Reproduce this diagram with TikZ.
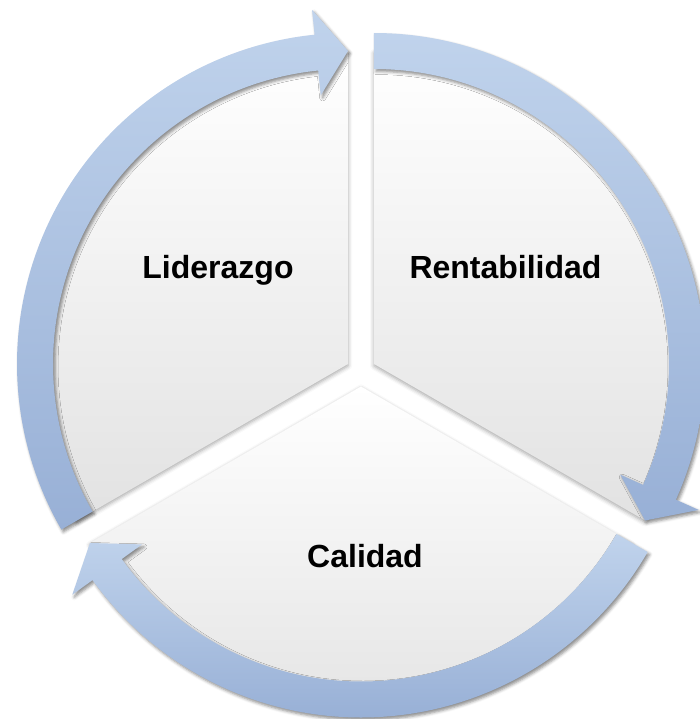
\documentclass[tikz,border=0pt]{standalone}
\usepackage{fontspec}
\setmainfont{Liberation Sans}
\usetikzlibrary{calc,shadows.blur}
\definecolor{arrowtop}{HTML}{C0D3EC}
\definecolor{arrowbot}{HTML}{98B0D6}
\definecolor{secbot}{HTML}{E2E2E2}
\tikzset{
  sector/.style={top color=white, bottom color=secbot,
    blur shadow={shadow xshift=0pt, shadow yshift=-2pt, shadow blur radius=4pt, shadow opacity=35}},
  cyclearrow/.style={top color=arrowtop, bottom color=arrowbot,
    blur shadow={shadow xshift=2pt, shadow yshift=-2.5pt, shadow blur radius=3pt, shadow opacity=45}},
  seglabel/.style={font=\bfseries\fontsize{32}{38}\selectfont, anchor=base, inner sep=0pt}
}
\newcommand\mysector[2]{% #1 shift, #2 start angle
  \begin{scope}[shift={#1}]
    \path[sector] (0,0) -- (#2:313) arc (#2:{#2+120}:313) -- cycle;
  \end{scope}}
\newcommand\myarrow[2]{% #1 shift, #2 tip angle
  \begin{scope}[shift={#1}]
    \path[cyclearrow] ({#2+120}:331) arc ({#2+120}:{#2+5.8}:331)
      -- ({#2+5.8}:356) -- (#2:313) -- ({#2+5.8}:270) -- ({#2+5.8}:295)
      arc ({#2+5.8}:{#2+120}:295) -- cycle;
  \end{scope}}
\begin{document}
\begin{tikzpicture}[x=1pt,y=1pt]
  \useasboundingbox (0,0) rectangle (700,-719);
  \coordinate (O) at (361,-371.5);
  \coordinate (L) at ($(O)+(150:15)$);
  \coordinate (R) at ($(O)+(30:15)$);
  \coordinate (C) at ($(O)+(270:15)$);
  % sectors
  \mysector{(L)}{90}
  \mysector{(R)}{-30}
  \mysector{(C)}{210}
  % arrows
  \myarrow{(L)}{90}
  \myarrow{(R)}{-30}
  \myarrow{(C)}{210}
  % labels
  \node[seglabel] (lid) at (218,-278) {Liderazgo};
  \node[seglabel] (ren) at (505.5,-278) {Rentabilidad};
  \node[seglabel] (cal) at (365,-567) {Calidad};
\end{tikzpicture}
\end{document}
